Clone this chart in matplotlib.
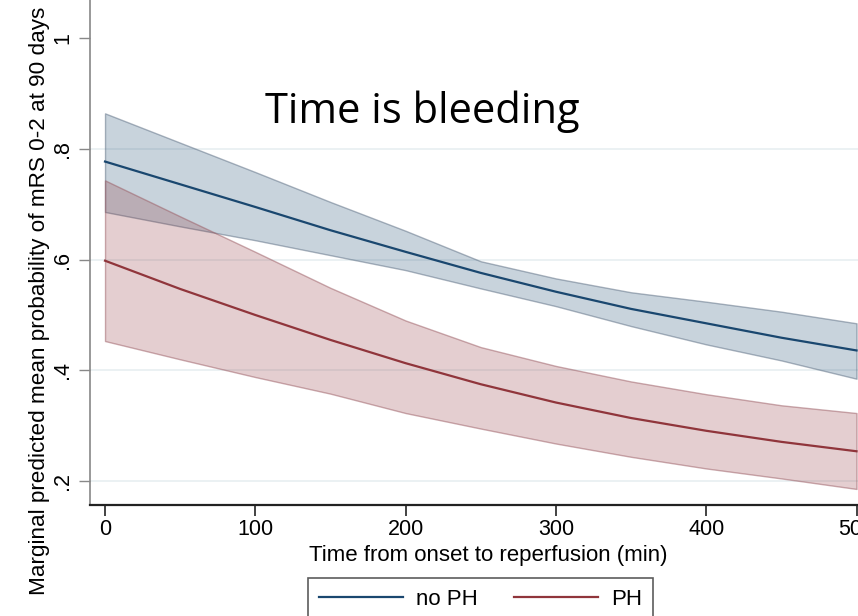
import matplotlib
matplotlib.use("Agg")
import matplotlib.pyplot as plt

# values (marginsplot style)
time_min = [0, 50, 100, 150, 200, 250, 300, 350, 400, 450, 500]
noph_mean = [0.777, 0.736, 0.695, 0.653, 0.614, 0.576, 0.542, 0.511, 0.485, 0.459, 0.436]
noph_hi = [0.864, 0.811, 0.758, 0.704, 0.652, 0.597, 0.566, 0.541, 0.524, 0.506, 0.485]
noph_lo = [0.686, 0.660, 0.635, 0.608, 0.581, 0.548, 0.516, 0.480, 0.447, 0.418, 0.385]
ph_mean = [0.598, 0.547, 0.500, 0.455, 0.413, 0.375, 0.342, 0.314, 0.291, 0.271, 0.254]
ph_hi = [0.743, 0.678, 0.614, 0.549, 0.490, 0.442, 0.408, 0.380, 0.357, 0.337, 0.323]
ph_lo = [0.453, 0.420, 0.388, 0.358, 0.323, 0.295, 0.268, 0.244, 0.223, 0.205, 0.186]

y_ticks = [0.2, 0.4, 0.6, 0.8, 1.0]
y_ticklabels = [".2", ".4", ".6", ".8", "1"]
x_ticks = [0, 100, 200, 300, 400, 500]

NAVY = "#1a476f"
MAROON = "#90353b"

plt.rcParams["font.family"] = ["Liberation Sans", "DejaVu Sans"]

fig = plt.figure(figsize=(8.58, 6.16), dpi=100)
# axes deliberately run past the right/top edge: the reference is a crop
ax = fig.add_axes([90 / 858, 111 / 616, 0.9284, 0.848])

ax.fill_between(time_min, noph_lo, noph_hi, facecolor=(0.10, 0.28, 0.44, 0.24),
                edgecolor=(0.35, 0.42, 0.50, 0.5), linewidth=1.0, zorder=2)
ax.fill_between(time_min, ph_lo, ph_hi, facecolor=(0.56, 0.21, 0.23, 0.24),
                edgecolor=(0.60, 0.35, 0.38, 0.5), linewidth=1.0, zorder=2)
l1, = ax.plot(time_min, noph_mean, color=NAVY, lw=1.6, zorder=3)
l2, = ax.plot(time_min, ph_mean, color=MAROON, lw=1.6, zorder=3)

ax.set_xlim(-10, 520)
ax.set_ylim(0.157, 1.1)

ax.set_yticks(y_ticks)
ax.set_yticklabels(y_ticklabels, rotation=90, va="center")
ax.set_xticks(x_ticks)

ax.grid(axis="y", color="#e8eff1", lw=1.2, zorder=0)
ax.get_ygridlines()[-1].set_visible(False)

for s in ["top", "right"]:
    ax.spines[s].set_visible(False)
ax.spines["left"].set_color("#888888")
ax.spines["left"].set_linewidth(1.2)
ax.spines["bottom"].set_color("#222222")
ax.spines["bottom"].set_linewidth(1.6)

ax.tick_params(axis="y", length=8, width=1, color="#888888", labelsize=15.5, pad=4)
ax.tick_params(axis="x", length=8, width=1.2, color="#222222", labelsize=15.5, pad=2)

ax.set_xlabel("Time from onset to reperfusion (min)", fontsize=16, labelpad=4)
ax.set_ylabel("Marginal predicted mean probability of mRS 0-2 at 90 days", fontsize=16.2)
ax.yaxis.set_label_coords(-0.050, 0.39)

fig.text(265 / 858, 1 - 123 / 616, "Time is bleeding", fontsize=30,
         family="Open Sans", va="baseline", ha="left")

leg = fig.legend([l1, l2], ["no PH", "PH"], ncol=2, loc="upper center",
                 bbox_to_anchor=(480.5 / 858, 1 - 578 / 616), borderaxespad=0,
                 fontsize=16, frameon=True, fancybox=False, handlelength=3.78,
                 handletextpad=0.59, columnspacing=1.62, borderpad=0.5)
leg.get_frame().set_edgecolor("#333333")
leg.get_frame().set_linewidth(1.2)

fig.savefig("out.png", dpi=100)
